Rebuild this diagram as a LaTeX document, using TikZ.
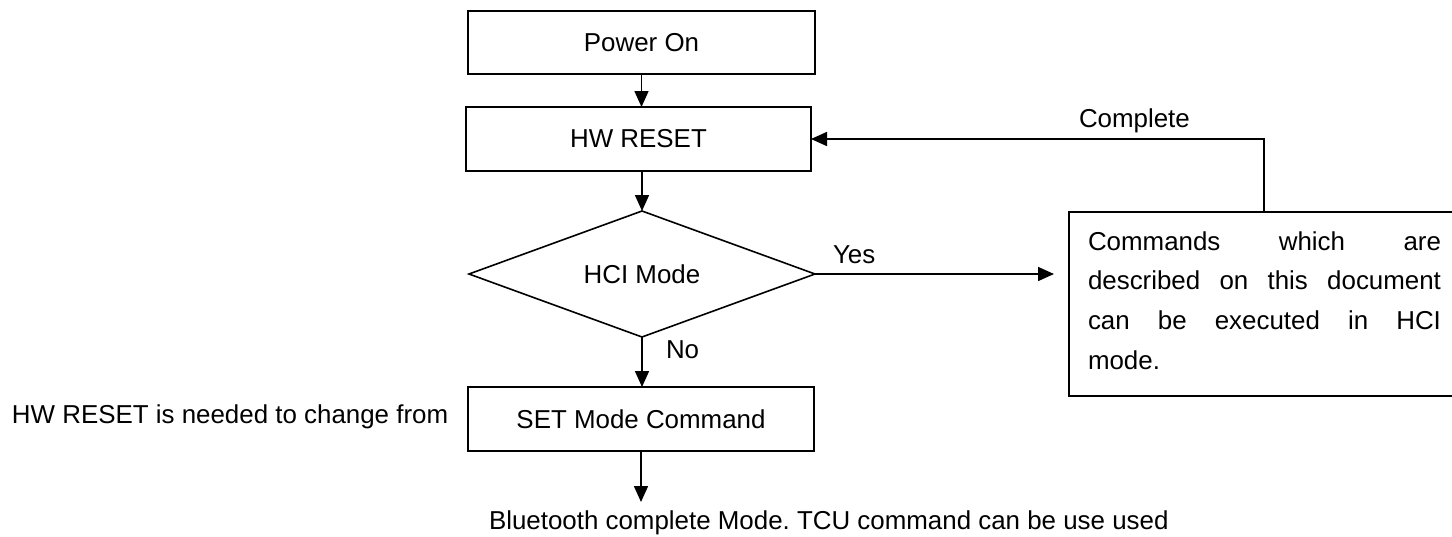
\documentclass[tikz,border=0pt]{standalone}
\usepackage{fontspec}
\setmainfont{Liberation Sans}
\usetikzlibrary{shapes.geometric,arrows.meta}
\frenchspacing
\begin{document}
\begin{tikzpicture}[x=1pt,y=-1pt,
  every node/.style={font=\fontsize{25.9}{30}\selectfont, inner sep=0pt, outer sep=0pt},
  box/.style={draw, line width=1.6pt, fill=white, rectangle, minimum width=346pt, minimum height=64pt},
  arr/.style={line width=1.6pt, -{Triangle[length=16pt,width=14pt]}}]
\useasboundingbox (0,0) rectangle (1452,536);
\clip (0,0) rectangle (1452,536);
\fill[white] (0,0) rectangle (1452,536);
% nodes
\node[box, minimum width=347pt, minimum height=63pt] (pon) at (641.5,42.5) {Power On};
\node[box, minimum width=345pt] (hw) at (638.5,139) {HW RESET};
\node[draw, diamond, aspect=2.75, minimum width=346pt, minimum height=126pt, line width=1.6pt] (hci) at (642,274) {HCI Mode};
\node[anchor=base west] (note) at (12,423) {HW RESET is needed to change from};
\node[box] (setm) at (641,419) {SET Mode Command};
\node[draw, line width=1.6pt, anchor=north west, minimum width=400pt, minimum height=184pt] (cmd) at (1069,212) {};
\node[anchor=base west] (l1) at (1088,250) {\makebox[353pt][s]{Commands which are}};
\node[anchor=base west] (l2) at (1088,289.5) {\makebox[353pt][s]{described on this document}};
\node[anchor=base west] (l3) at (1088,329) {\makebox[353pt][s]{can be executed in HCI}};
\node[anchor=base west] (l4) at (1088,369) {mode.};
\node[anchor=base west] (bt) at (489,529) {Bluetooth complete Mode. TCU command can be use used};
\node[anchor=base west] (yes) at (833,263) {Yes};
\node[anchor=base west] (no) at (666,358) {No};
\node[anchor=base west] (compl) at (1079,127) {Complete};
\coordinate (yesend) at (1054,274);
\coordinate (cmdtop) at (1264,212);
\coordinate (btend) at (641,502);
% connectors
\draw[arr] (pon.south) -- (pon.south |- hw.north);
\draw[arr] (hci.north |- hw.south) -- (hci.north);
\draw[arr] (hci.east) -- (yesend);
\draw[arr] (hci.south) -- (hci.south |- setm.north);
\draw[arr] (setm.south) -- (btend);
\draw[arr] (cmdtop) |- (hw.east);
\end{tikzpicture}
\end{document}
